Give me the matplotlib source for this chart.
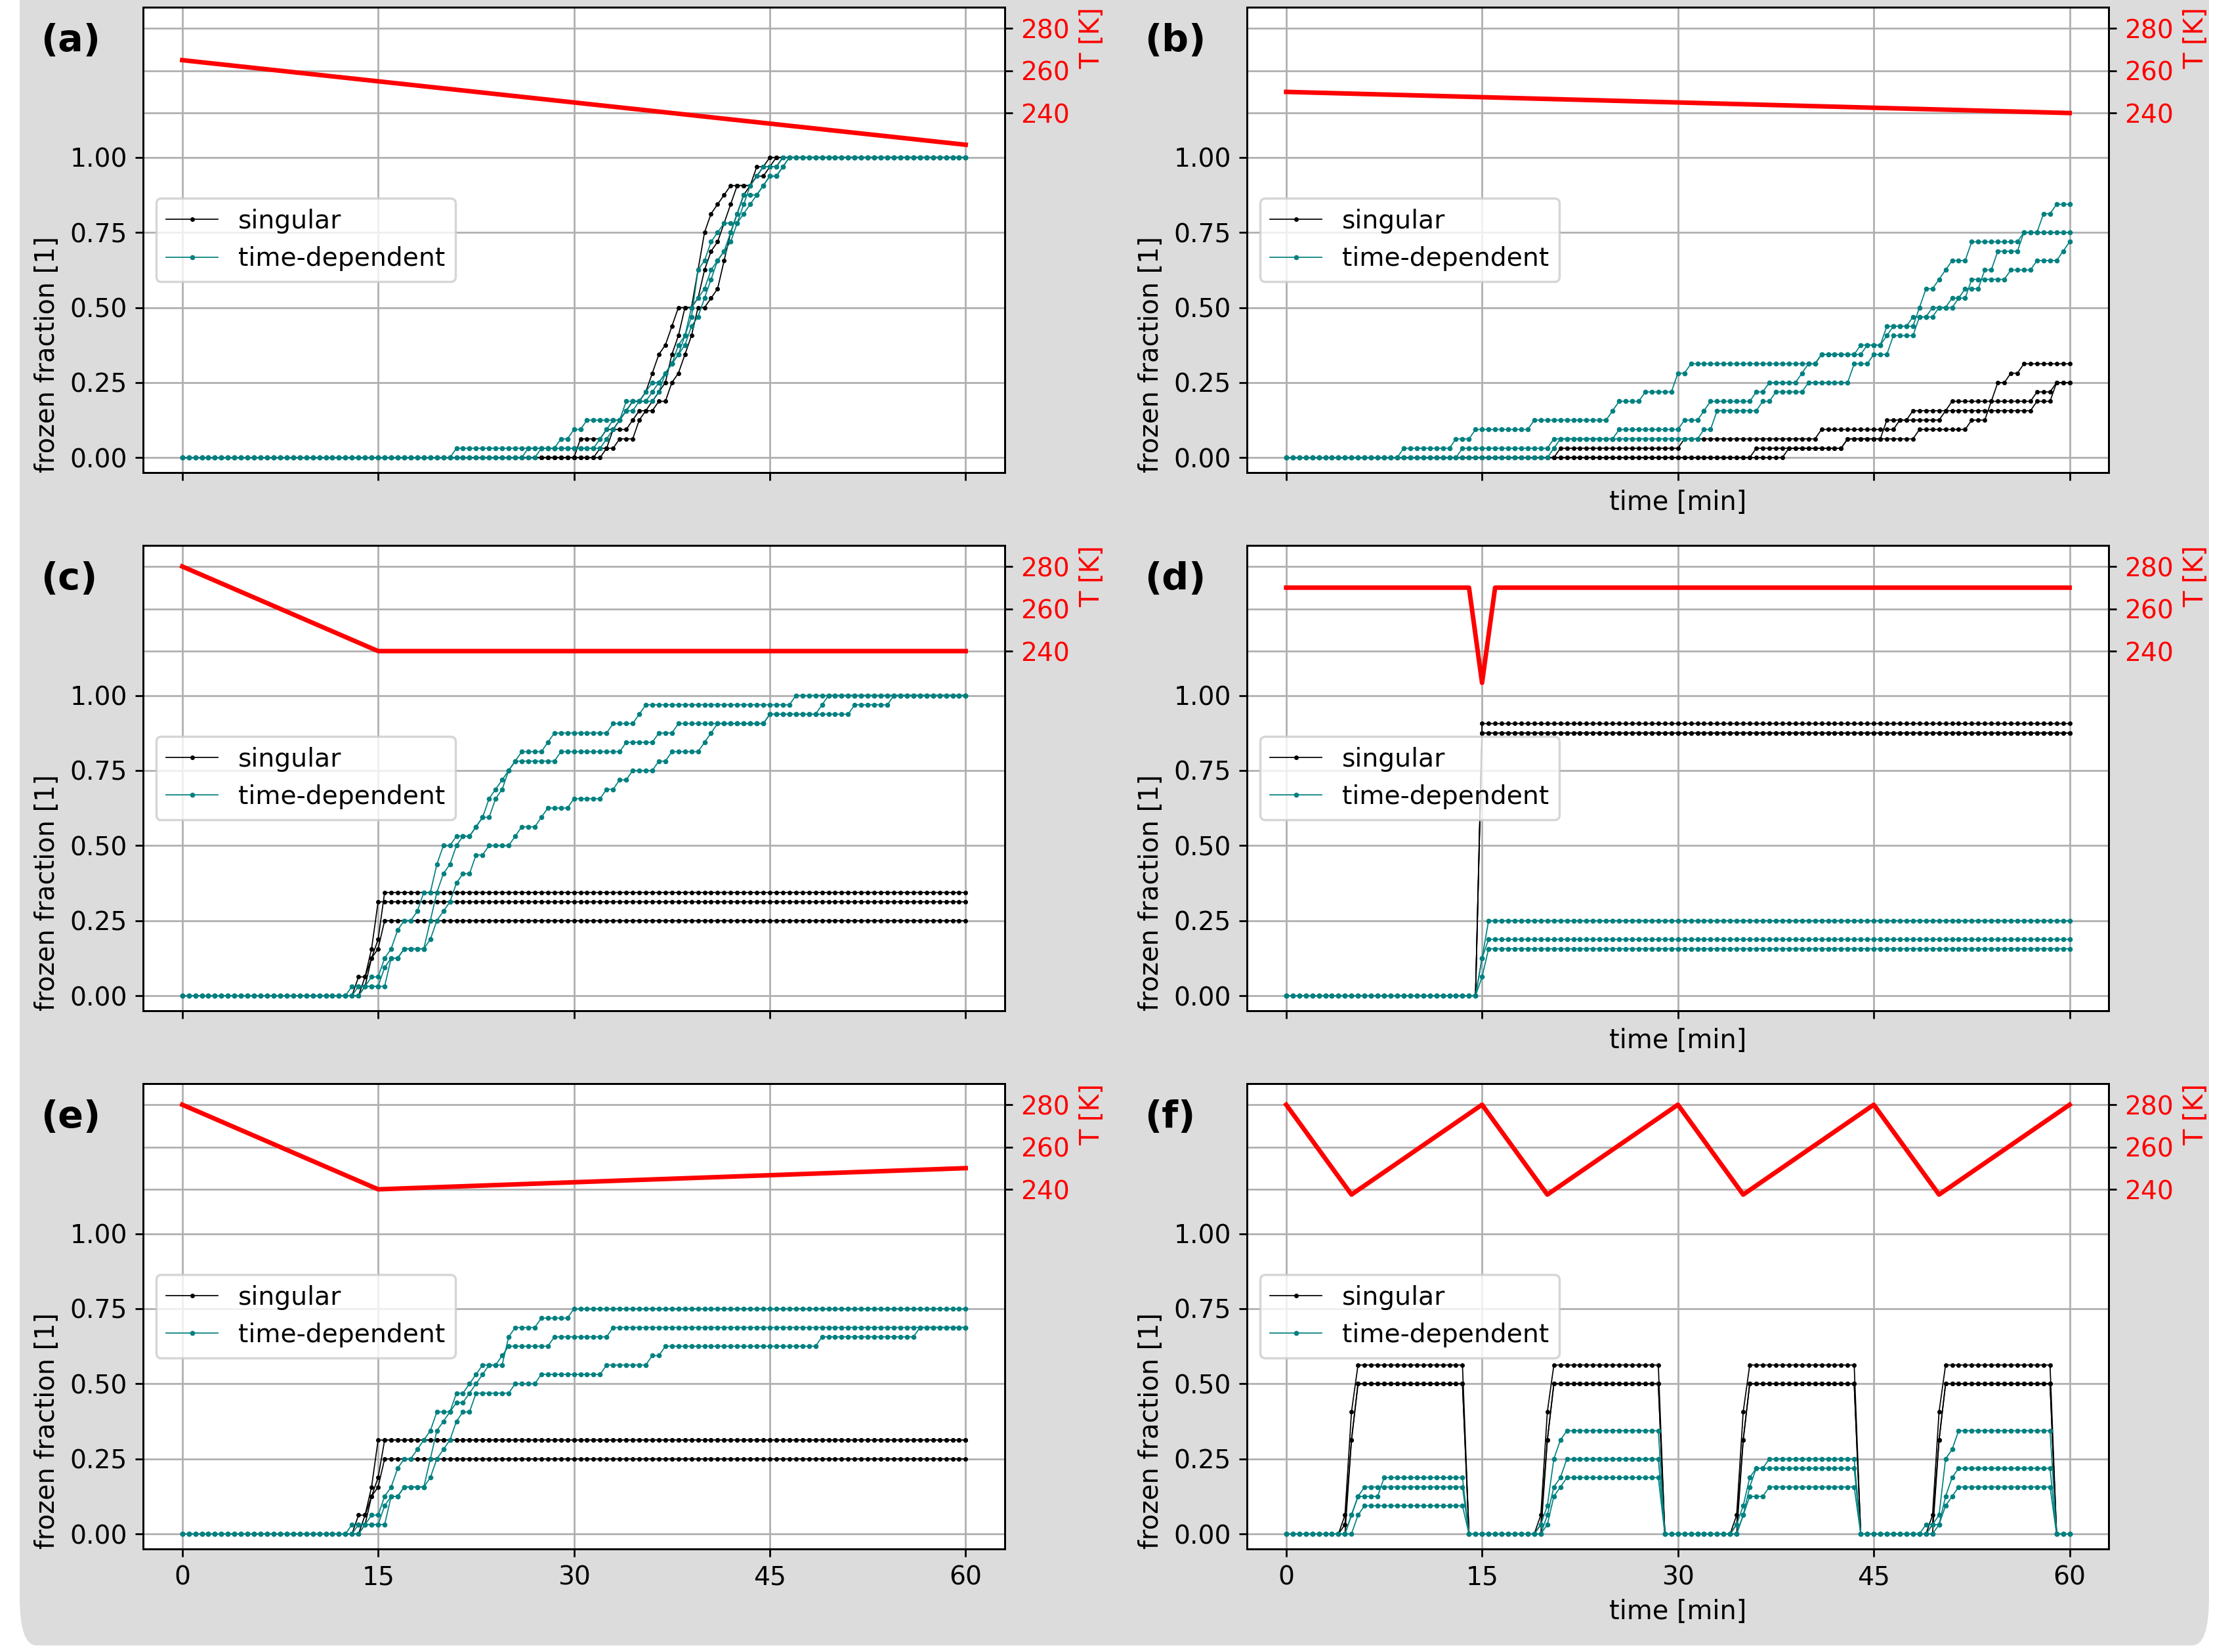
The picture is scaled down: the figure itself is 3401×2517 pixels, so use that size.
import numpy as np
import matplotlib.pyplot as plt
from matplotlib.patches import FancyBboxPatch
from matplotlib.transforms import IdentityTransform

plt.rcParams['font.size'] = 11.3
plt.rcParams['axes.labelsize'] = 11.5

# one reading every 0.5 min, 32 droplets per run
time = np.linspace(0, 60, 121)
n_drops = 32

# temperature programs: time [min], T [K]
temp_a_t = [0, 60]
temp_a_T = [265, 225]
temp_b_t = [0, 60]
temp_b_T = [250, 240]
temp_c_t = [0, 15, 60]
temp_c_T = [280, 240, 240]
temp_d_t = [0, 14, 15, 16, 60]
temp_d_T = [270, 270, 225, 270, 270]
temp_e_t = [0, 15, 60]
temp_e_T = [280, 240, 250]
temp_f_t = [0, 5, 15, 20, 30, 35, 45, 50, 60]
temp_f_T = [280, 237.5, 280, 237.5, 280, 237.5, 280, 237.5, 280]

# frozen droplet counts, read off as (sample index, count from there on)
# (a) slow linear cooling
sing_a1 = [(61, 2), (65, 3), (67, 4), (68, 5), (69, 6), (71, 7), (72, 9), (73, 11), (74, 12), (75, 14), (76, 16),
           (79, 20), (80, 24), (81, 26), (82, 27), (83, 28), (84, 29), (88, 31), (90, 32)]
sing_a2 = [(64, 1), (67, 2), (70, 4), (71, 5), (72, 6), (73, 7), (74, 8), (75, 11), (76, 13), (77, 16), (79, 17),
           (80, 20), (81, 22), (82, 23), (83, 25), (84, 27), (85, 29), (88, 30), (90, 31), (91, 32)]
sing_a3 = [(65, 1), (66, 3), (69, 4), (70, 5), (73, 6), (75, 8), (76, 9), (77, 11), (78, 13), (79, 16), (81, 17),
           (82, 18), (83, 21), (84, 24), (85, 26), (86, 28), (87, 29), (88, 30), (89, 31), (92, 32)]
tdep_a1 = [(42, 1), (58, 2), (60, 3), (62, 4), (68, 5), (69, 6), (73, 7), (74, 9), (75, 10), (76, 12), (77, 13),
           (78, 15), (79, 20), (80, 21), (81, 23), (82, 24), (83, 25), (86, 27), (87, 29), (88, 30), (89, 31), (92, 32)]
tdep_a2 = [(53, 1), (64, 2), (65, 3), (66, 4), (68, 6), (72, 7), (73, 8), (74, 9), (75, 10), (76, 11), (77, 13),
           (78, 16), (79, 17), (80, 18), (81, 20), (82, 21), (83, 22), (84, 23), (85, 25), (86, 26), (87, 27),
           (88, 28), (89, 29), (90, 30), (92, 31), (93, 32)]
tdep_a3 = [(55, 1), (65, 2), (66, 3), (67, 4), (68, 5), (70, 6), (71, 7), (72, 8), (74, 9), (75, 10), (76, 11),
           (77, 12), (78, 14), (79, 15), (80, 17), (81, 19), (82, 21), (83, 22), (84, 24), (85, 26), (86, 28),
           (89, 29), (90, 30), (92, 31), (93, 32)]

# (b) very slow cooling
sing_b1 = [(42, 1), (61, 2), (82, 3), (94, 4), (101, 5), (102, 6), (115, 7), (118, 8)]
sing_b2 = [(72, 1), (86, 2), (97, 3), (105, 4), (108, 6), (109, 8), (111, 9), (113, 10)]
sing_b3 = [(77, 1), (86, 2), (92, 4), (96, 5), (115, 6), (118, 8)]
tdep_b1 = [(18, 1), (26, 2), (29, 3), (38, 4), (50, 5), (51, 6), (55, 7), (60, 9), (62, 10), (82, 11), (88, 12),
           (92, 13), (93, 14), (97, 16), (98, 18), (100, 19), (101, 20), (102, 21), (105, 23), (113, 24),
           (116, 26), (118, 27)]
tdep_b2 = [(27, 1), (41, 2), (51, 3), (61, 4), (64, 5), (65, 6), (72, 7), (74, 8), (79, 9), (80, 10), (82, 11),
           (89, 12), (92, 14), (96, 15), (99, 16), (102, 17), (104, 18), (107, 20), (109, 22), (113, 24)]
tdep_b3 = [(41, 1), (42, 2), (64, 3), (66, 5), (73, 6), (75, 7), (80, 8), (87, 10), (90, 11), (93, 13), (97, 15),
           (100, 16), (103, 17), (105, 19), (111, 20), (115, 21), (119, 22), (120, 23)]

# (c) cooling then hold
sing_c1 = [(27, 2), (29, 5), (30, 10)]
sing_c2 = [(28, 2), (29, 4), (30, 6), (31, 11)]
sing_c3 = [(28, 1), (29, 4), (30, 5), (31, 8)]
tdep_c1 = [(26, 1), (29, 2), (31, 4), (32, 5), (33, 7), (34, 8), (36, 9), (37, 11), (39, 14), (40, 16), (42, 17),
           (45, 18), (46, 19), (47, 21), (48, 22), (49, 23), (50, 24), (51, 25), (52, 26), (56, 27), (57, 28),
           (66, 29), (70, 30), (71, 31), (94, 32)]
tdep_c2 = [(27, 1), (31, 3), (32, 4), (34, 5), (38, 8), (39, 11), (40, 13), (41, 14), (42, 16), (43, 17),
           (45, 18), (46, 19), (48, 21), (49, 22), (50, 24), (51, 25), (58, 26), (68, 27), (73, 28), (76, 29),
           (90, 30), (98, 31), (99, 32)]
tdep_c3 = [(28, 1), (32, 4), (34, 5), (38, 6), (39, 8), (40, 9), (41, 10), (42, 12), (43, 13), (45, 15), (47, 16),
           (51, 17), (52, 18), (55, 19), (56, 20), (60, 21), (65, 22), (67, 23), (69, 24), (73, 25), (75, 26),
           (80, 27), (81, 28), (82, 29), (90, 30), (103, 31), (109, 32)]

# (d) short cold pulse
sing_d1 = [(30, 29)]
sing_d2 = [(30, 28)]
sing_d3 = [(30, 28)]
tdep_d1 = [(30, 4), (31, 8)]
tdep_d2 = [(30, 2), (31, 5)]
tdep_d3 = [(30, 4), (31, 6)]

# (e) cooling then slow warming
sing_e1 = [(27, 2), (29, 5), (30, 10)]
sing_e2 = [(28, 2), (29, 4), (30, 6), (31, 10)]
sing_e3 = [(28, 1), (29, 4), (30, 5), (31, 8)]
tdep_e1 = [(26, 1), (29, 2), (31, 4), (32, 5), (33, 7), (34, 8), (36, 9), (37, 10), (38, 11), (39, 13), (42, 15),
           (44, 16), (45, 17), (46, 18), (50, 21), (51, 22), (55, 23), (60, 24)]
tdep_e2 = [(27, 1), (31, 3), (32, 4), (34, 5), (38, 8), (39, 11), (40, 12), (41, 13), (42, 14), (44, 15),
           (45, 16), (46, 17), (47, 18), (49, 19), (50, 20), (57, 21), (66, 22)]
tdep_e3 = [(28, 1), (32, 4), (34, 5), (38, 6), (39, 8), (40, 9), (41, 10), (42, 12), (43, 13), (45, 15),
           (51, 16), (55, 17), (65, 18), (72, 19), (74, 20), (98, 21), (113, 22)]

# (f) freeze / melt cycles
sing_f1 = [(9, 2), (10, 13), (11, 18), (28, 0), (39, 2), (40, 13), (41, 18), (58, 0),
           (69, 2), (70, 13), (71, 18), (88, 0), (99, 2), (100, 13), (101, 18), (118, 0)]
sing_f2 = [(9, 1), (10, 10), (11, 16), (28, 0), (39, 1), (40, 10), (41, 16), (58, 0),
           (69, 1), (70, 10), (71, 16), (88, 0), (99, 1), (100, 10), (101, 16), (118, 0)]
sing_f3 = [(10, 10), (11, 16), (28, 0), (40, 10), (41, 16), (58, 0),
           (70, 10), (71, 16), (88, 0), (100, 10), (101, 16), (118, 0)]
tdep_f1 = [(10, 2), (11, 4), (15, 6), (28, 0), (39, 1), (40, 3), (41, 8), (42, 10), (43, 11), (58, 0),
           (69, 1), (70, 3), (71, 6), (72, 7), (74, 8), (88, 0), (98, 1), (100, 2), (101, 8), (102, 9), (103, 11),
           (118, 0)]
tdep_f2 = [(10, 2), (11, 4), (12, 5), (28, 0), (40, 2), (41, 5), (42, 6), (43, 8), (58, 0),
           (70, 2), (71, 5), (72, 7), (88, 0), (99, 1), (101, 4), (102, 6), (103, 7), (118, 0)]
tdep_f3 = [(11, 2), (12, 3), (28, 0), (40, 1), (41, 4), (42, 5), (43, 6), (58, 0),
           (70, 2), (71, 4), (74, 5), (88, 0), (100, 1), (101, 3), (102, 4), (103, 5), (118, 0)]

panels = [
    ('(a)', temp_a_t, temp_a_T, [sing_a1, sing_a2, sing_a3], [tdep_a1, tdep_a2, tdep_a3]),
    ('(b)', temp_b_t, temp_b_T, [sing_b1, sing_b2, sing_b3], [tdep_b1, tdep_b2, tdep_b3]),
    ('(c)', temp_c_t, temp_c_T, [sing_c1, sing_c2, sing_c3], [tdep_c1, tdep_c2, tdep_c3]),
    ('(d)', temp_d_t, temp_d_T, [sing_d1, sing_d2, sing_d3], [tdep_d1, tdep_d2, tdep_d3]),
    ('(e)', temp_e_t, temp_e_T, [sing_e1, sing_e2, sing_e3], [tdep_e1, tdep_e2, tdep_e3]),
    ('(f)', temp_f_t, temp_f_T, [sing_f1, sing_f2, sing_f3], [tdep_f1, tdep_f2, tdep_f3]),
]


def frozen_fraction(steps):
    count = np.zeros(len(time))
    for k, n in steps:
        count[k:] = n
    return count / n_drops


fig = plt.figure(figsize=(3401 / 250, 2517 / 250), dpi=250)

# grey rounded backdrop (pixel coordinates)
bg = FancyBboxPatch((30, 10), 3336, 2800, boxstyle='round,pad=0,rounding_size=26',
                    mutation_aspect=2.8, transform=IdentityTransform(),
                    facecolor='#dcdcdc', edgecolor='none', zorder=-10)
fig.add_artist(bg)

lefts = [0.0641, 0.5587]
bottoms = [0.7139, 0.3882, 0.0624]
w, h = 0.3861, 0.2817

for i, (letter, tt, TT, sing, tdep) in enumerate(panels):
    row, col = i // 2, i % 2
    ax = fig.add_axes([lefts[col], bottoms[row], w, h])
    for s in sing:
        ax.plot(time, frozen_fraction(s), color='k', lw=0.5, marker='o', ms=2.0, mew=0,
                label='singular' if s is sing[0] else None)
    for s in tdep:
        ax.plot(time, frozen_fraction(s), color='teal', lw=0.5, marker='o', ms=2.2, mew=0,
                label='time-dependent' if s is tdep[0] else None)
    ax.set_xlim(-3, 63)
    ax.set_ylim(-0.05, 1.5)
    ax.set_xticks([0, 15, 30, 45, 60])
    ax.set_yticks([0, 0.25, 0.5, 0.75, 1.0])
    ax.grid(True)
    ax.set_ylabel('frozen fraction [1]', loc='bottom')
    if row < 2:
        ax.tick_params(labelbottom=False)
    if col == 1:
        ax.set_xlabel('time [min]')
    ax.legend(loc='center left')
    ax.text(-0.119, 0.927, letter, transform=ax.transAxes, fontsize=16.5, fontweight='bold',
            ha='left', va='center')

    tx = ax.twinx()
    tx.plot(tt, TT, color='red', lw=2)
    tx.set_ylim(70, 290)
    tx.set_yticks([240, 260, 280])
    tx.tick_params(axis='y', labelcolor='red')
    tx.set_ylabel('T [K]', color='red', loc='top')
    tx.grid(True, axis='y')

fig.savefig('out.png', dpi=250, facecolor='white')
